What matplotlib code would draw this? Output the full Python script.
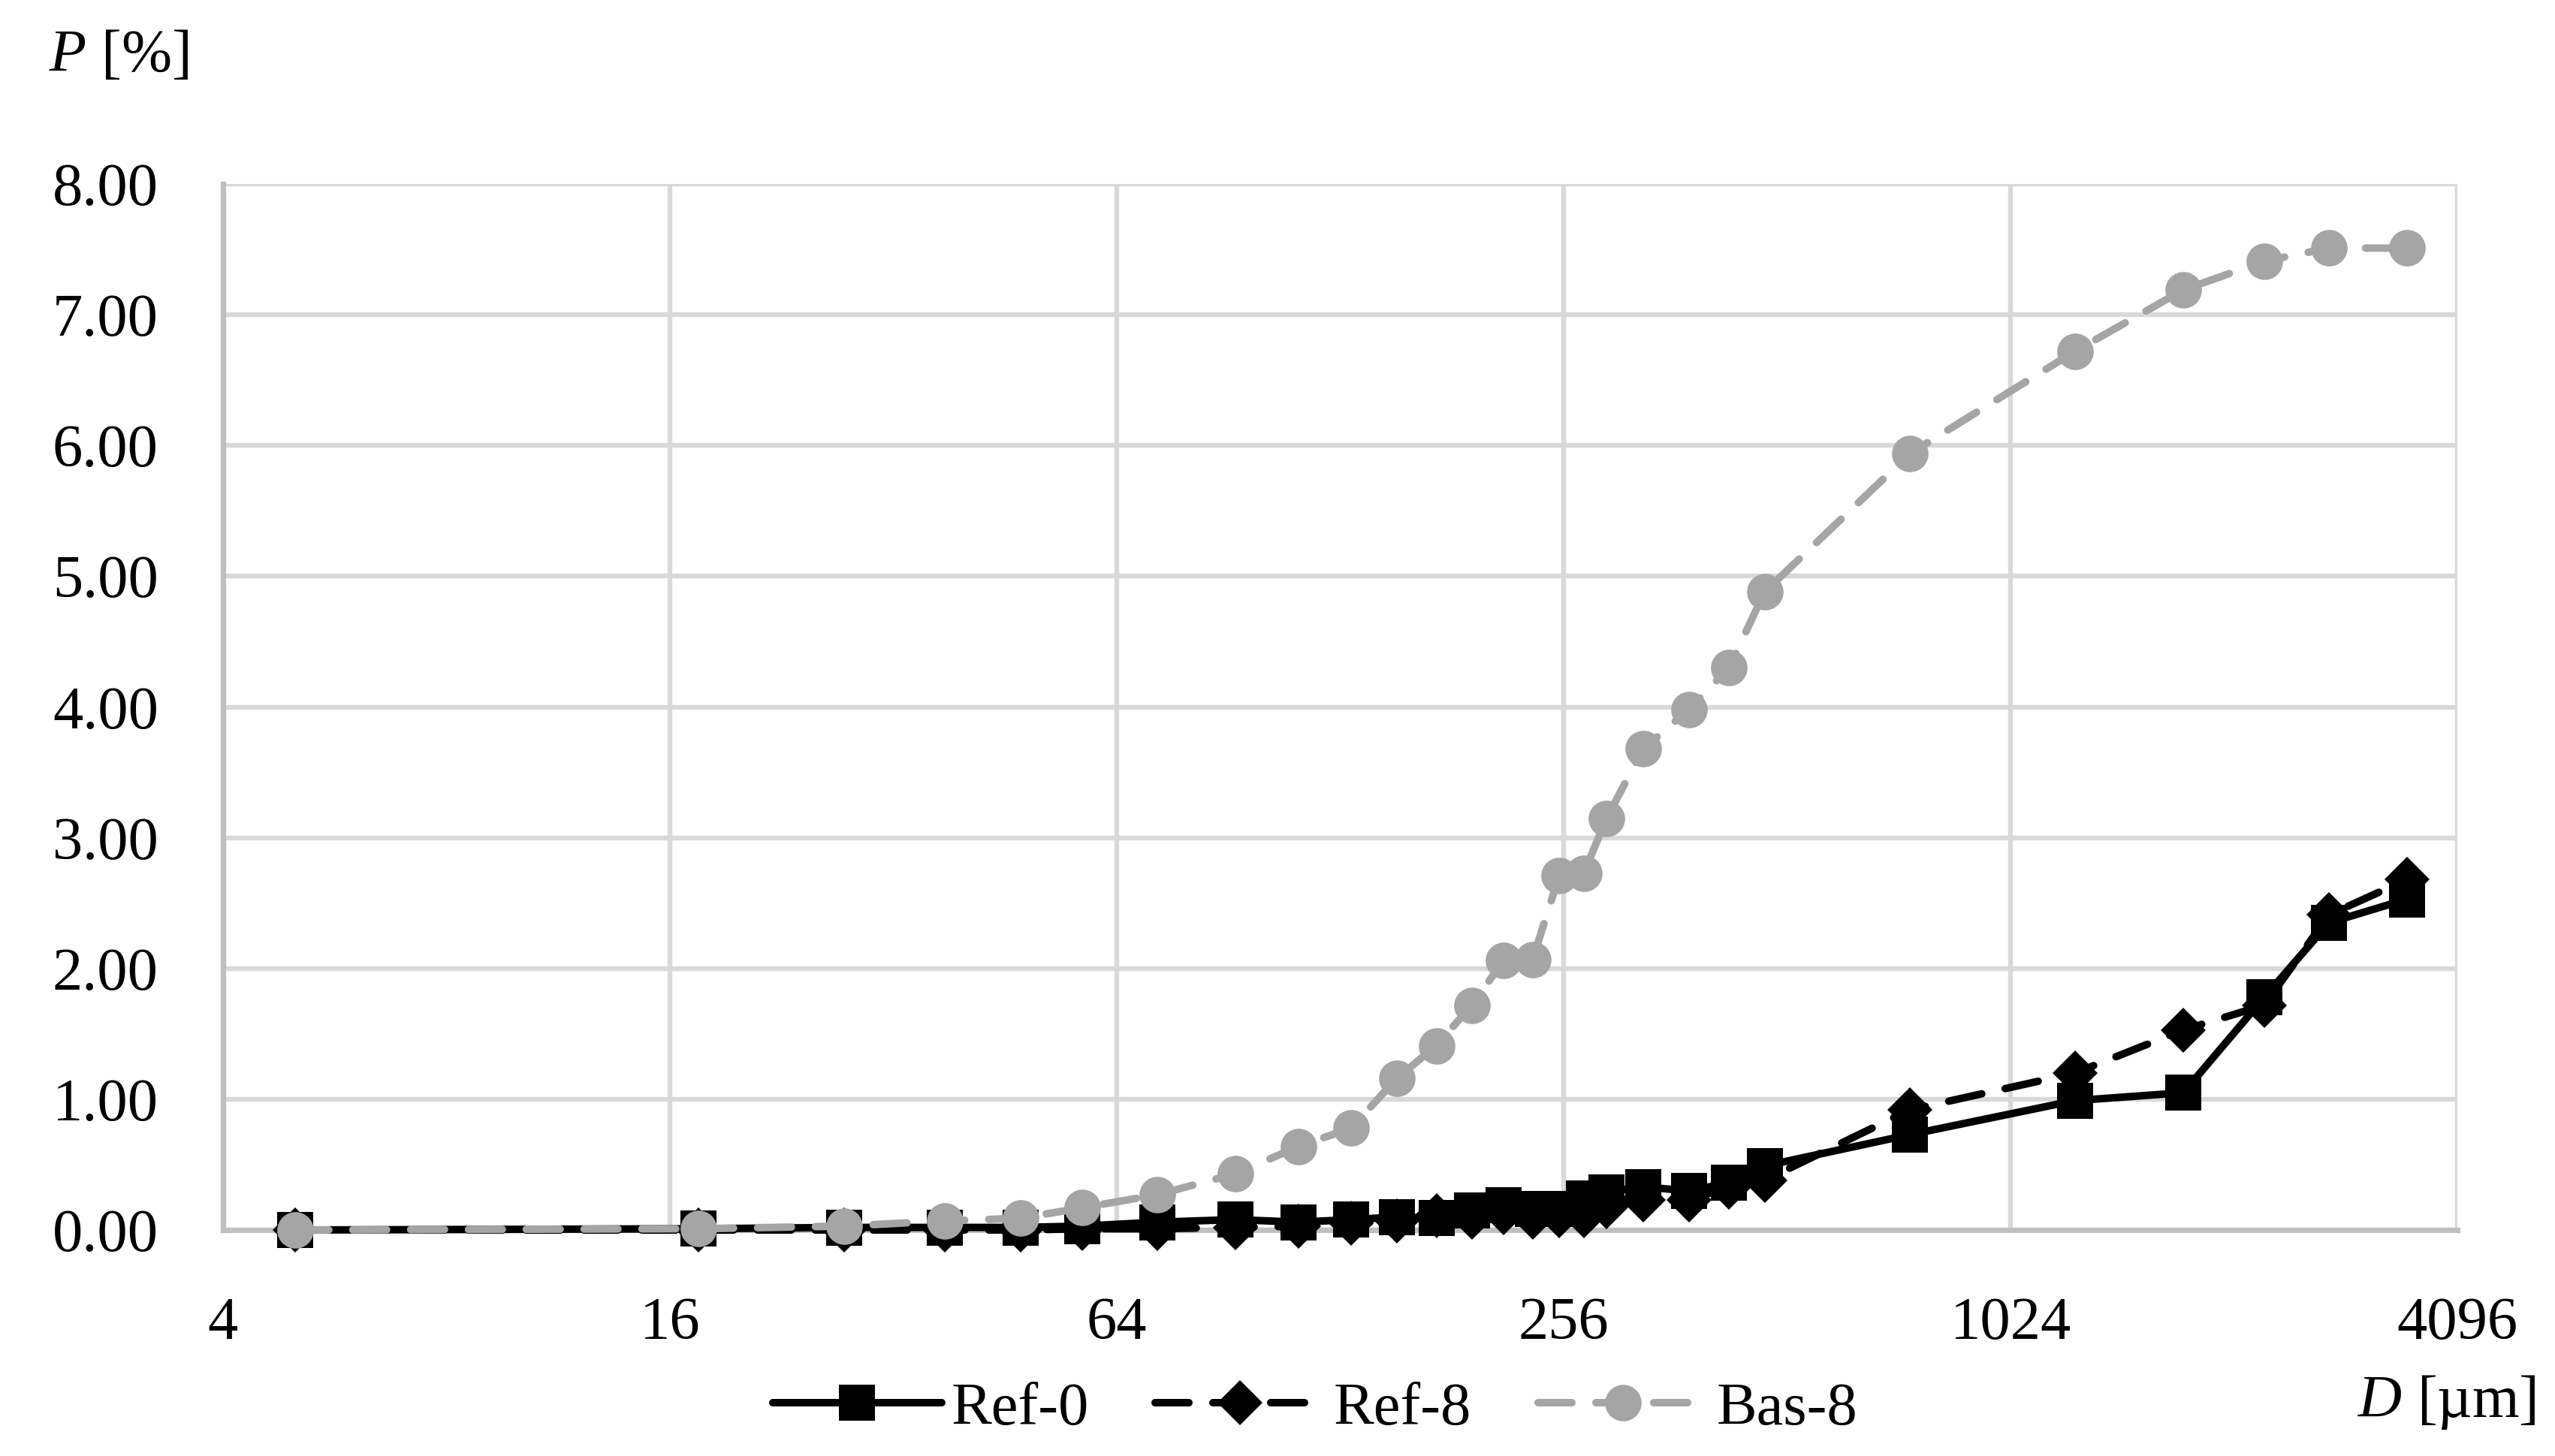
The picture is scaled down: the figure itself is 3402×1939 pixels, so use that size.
import matplotlib.pyplot as plt
from matplotlib.lines import Line2D

plt.rcParams['font.family'] = ['Liberation Serif', 'DejaVu Serif']
plt.rcParams['mathtext.fontset'] = 'custom'
plt.rcParams['mathtext.rm'] = 'Liberation Serif'
plt.rcParams['mathtext.it'] = 'Liberation Serif:italic'

# particle size D [um] (bin midpoints)
d_um = [5, 17.5, 27.5, 37.5, 47.5, 57.5, 72.5, 92.5, 112.5, 132.5, 152.5,
        172.5, 192.5, 212.5, 232.5, 252.5, 272.5, 292.5, 327.5, 377.5,
        427.5, 477.5, 750, 1250, 1750, 2250, 2750, 3500]

ref0 = [0.00, 0.01, 0.02, 0.02, 0.02, 0.03, 0.06, 0.08, 0.06, 0.08, 0.10,
        0.09, 0.15, 0.19, 0.16, 0.16, 0.24, 0.29, 0.33, 0.30,
        0.36, 0.49, 0.73, 0.99, 1.05, 1.78, 2.35, 2.53]

ref8 = [0.00, 0.00, 0.00, 0.00, 0.00, 0.01, 0.01, 0.02, 0.03, 0.05, 0.07,
        0.11, 0.10, 0.13, 0.10, 0.11, 0.11, 0.18, 0.23, 0.23,
        0.33, 0.38, 0.92, 1.20, 1.53, 1.72, 2.41, 2.68]

bas8 = [0.00, 0.01, 0.03, 0.07, 0.09, 0.17, 0.27, 0.43, 0.64, 0.78, 1.16,
        1.41, 1.72, 2.06, 2.07, 2.71, 2.73, 3.15, 3.68, 3.98,
        4.30, 4.88, 5.94, 6.72, 7.19, 7.41, 7.51, 7.51]

x_ticks = [4, 16, 64, 256, 1024, 4096]
y_ticks = [0, 1, 2, 3, 4, 5, 6, 7, 8]

gray = '#A5A5A5'
fs = 29

fig = plt.figure(figsize=(17.01, 9.695), dpi=200)
ax = fig.add_axes([0.0873, 0.1552, 0.8745, 0.7184])

style_r0 = dict(color='black', lw=3.6, marker='s', ms=17, mew=0,
                solid_capstyle='round', solid_joinstyle='round')
style_r8 = dict(color='black', lw=3.6, marker='D', ms=15.5, mew=0,
                dashes=(4.5, 3.2), dash_capstyle='round')
style_b8 = dict(color=gray, lw=3.6, marker='o', ms=17.5, mew=0,
                dashes=(4.5, 3.2), dash_capstyle='round')

ax.plot(d_um, ref0, clip_on=False, zorder=3, **style_r0)
ax.plot(d_um, ref8, clip_on=False, zorder=4, **style_r8)
ax.plot(d_um, bas8, clip_on=False, zorder=5, **style_b8)

ax.set_xscale('log', base=2)
ax.set_xlim(4, 4096)
ax.set_ylim(0, 8)
ax.set_xticks(x_ticks)
ax.set_xticklabels([str(t) for t in x_ticks])
ax.minorticks_off()
ax.set_yticks(y_ticks)
ax.set_yticklabels(['%.2f' % t for t in y_ticks])
ax.tick_params(axis='both', length=0, labelsize=fs)
ax.tick_params(axis='x', pad=32)
ax.tick_params(axis='y', pad=31)

ax.grid(True, color='#D9D9D9', lw=2.3)
ax.set_axisbelow(True)
for s in ['top', 'right']:
    ax.spines[s].set_visible(False)
for s in ['left', 'bottom']:
    ax.spines[s].set_color('#BFBFBF')
    ax.spines[s].set_linewidth(2.6)
    ax.spines[s].set_zorder(1)

fig.text(0.019, 0.961, r'$P$ [%]', fontsize=fs, ha='left', va='center')
fig.text(0.9927, 0.037, r'$D$ [µm]', fontsize=fs, ha='right', va='center')

handles = [Line2D([], [], **style_r0), Line2D([], [], **style_r8),
           Line2D([], [], **style_b8)]
fig.legend(handles, ['Ref-0', 'Ref-8', 'Bas-8'], loc='center',
           bbox_to_anchor=(0.5147, 0.032), ncol=3, frameon=False,
           fontsize=fs, handlelength=2.8, handletextpad=0.15,
           columnspacing=1.1, borderpad=0)

fig.savefig('out.png', dpi=200)
